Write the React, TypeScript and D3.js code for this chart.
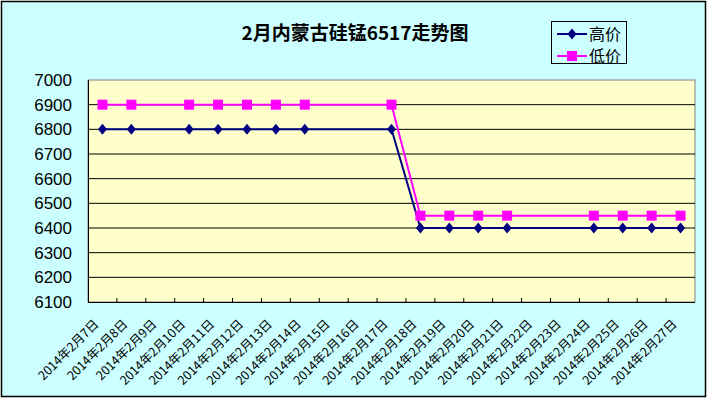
import * as d3 from "d3";

// categories and values
const dates = [
  "2014年2月7日", "2014年2月8日", "2014年2月9日", "2014年2月10日", "2014年2月11日",
  "2014年2月12日", "2014年2月13日", "2014年2月14日", "2014年2月15日", "2014年2月16日",
  "2014年2月17日", "2014年2月18日", "2014年2月19日", "2014年2月20日", "2014年2月21日",
  "2014年2月22日", "2014年2月23日", "2014年2月24日", "2014年2月25日", "2014年2月26日",
  "2014年2月27日",
];
const highPrice = [
  6800, 6800, null, 6800, 6800, 6800, 6800, 6800, null, null, 6800,
  6400, 6400, 6400, 6400, null, null, 6400, 6400, 6400, 6400,
];
const lowPrice = [
  6900, 6900, null, 6900, 6900, 6900, 6900, 6900, null, null, 6900,
  6450, 6450, 6450, 6450, null, null, 6450, 6450, 6450, 6450,
];
const yTicks = [6100, 6200, 6300, 6400, 6500, 6600, 6700, 6800, 6900, 7000];

const width = 708;
const height = 398;
const left = 88, right = 695, top = 80, bottom = 302;

function App() {
  const xScale = d3.scaleBand<string>().domain(dates).range([left, right]);
  const yScale = d3.scaleLinear().domain([6100, 7000]).range([bottom, top]);
  const cx = (d: string) => (xScale(d) as number) + xScale.bandwidth() / 2;

  const points = (vals: (number | null)[]) =>
    dates.map((d, i) => ({ d, v: vals[i] })).filter((p) => p.v != null) as { d: string; v: number }[];

  const line = d3
    .line<{ d: string; v: number }>()
    .x((p) => cx(p.d))
    .y((p) => yScale(p.v));

  const high = points(highPrice);
  const low = points(lowPrice);
  const diamond = "M0,-5.5L4.5,0L0,5.5L-4.5,0Z";

  return (
    <svg width={width} height={height} style={{ position: "absolute", left: 0, top: 0 }}>
      <rect x={1.5} y={1.5} width={704} height={395} fill="#ccffff" stroke="#000" strokeWidth={1.5} />
      <text x={355} y={40} textAnchor="middle" fontFamily="Noto Sans CJK SC" fontWeight="bold" fontSize={19}>
        2月内蒙古硅锰6517走势图
      </text>

      {/* plot area */}
      <rect x={left} y={top} width={right - left} height={bottom - top} fill="#ffffcc" stroke="#808080" />
      {yTicks.slice(1, -1).map((t) => (
        <line key={t} x1={left} x2={right} y1={yScale(t)} y2={yScale(t)} stroke="#000" />
      ))}
      <line x1={left + 0.5} x2={left + 0.5} y1={top} y2={bottom} stroke="#000" />
      <line x1={left} x2={right} y1={bottom + 0.5} y2={bottom + 0.5} stroke="#000" />
      {dates.slice(1).map((d) => (
        <line key={d} x1={xScale(d)} x2={xScale(d)} y1={bottom} y2={bottom - 4} stroke="#000" />
      ))}

      {yTicks.map((t) => (
        <text key={t} x={72} y={yScale(t) + 6} textAnchor="end" fontFamily="Liberation Sans" fontSize={17}>
          {t}
        </text>
      ))}
      {dates.map((d) => (
        <text
          key={d}
          transform={`translate(${cx(d) - 3},${325}) rotate(-45)`}
          textAnchor="end"
          fontFamily="Noto Sans CJK SC"
          fontSize={12.5}
        >
          {d}
        </text>
      ))}

      {/* series */}
      <path d={line(high) as string} fill="none" stroke="#000080" strokeWidth={2} />
      <path d={line(low) as string} fill="none" stroke="#ff00ff" strokeWidth={2} />
      {high.map((p) => (
        <path key={p.d} d={diamond} transform={`translate(${cx(p.d)},${yScale(p.v)})`} fill="#000080" />
      ))}
      {low.map((p) => (
        <rect key={p.d} x={cx(p.d) - 5} y={yScale(p.v) - 5} width={10} height={10} fill="#ff00ff" />
      ))}

      {/* legend */}
      <rect x={551.5} y={21.5} width={75} height={42} fill="#ccffff" stroke="#000" />
      <line x1={557} x2={587} y1={34} y2={34} stroke="#000080" strokeWidth={2} />
      <path d={diamond} transform="translate(572,34)" fill="#000080" />
      <text x={589} y={40} fontFamily="Noto Sans CJK SC" fontSize={16}>高价</text>
      <line x1={557} x2={587} y1={56} y2={56} stroke="#ff00ff" strokeWidth={2} />
      <rect x={567} y={51} width={10} height={10} fill="#ff00ff" />
      <text x={589} y={62} fontFamily="Noto Sans CJK SC" fontSize={16}>低价</text>
    </svg>
  );
}

export default App;
